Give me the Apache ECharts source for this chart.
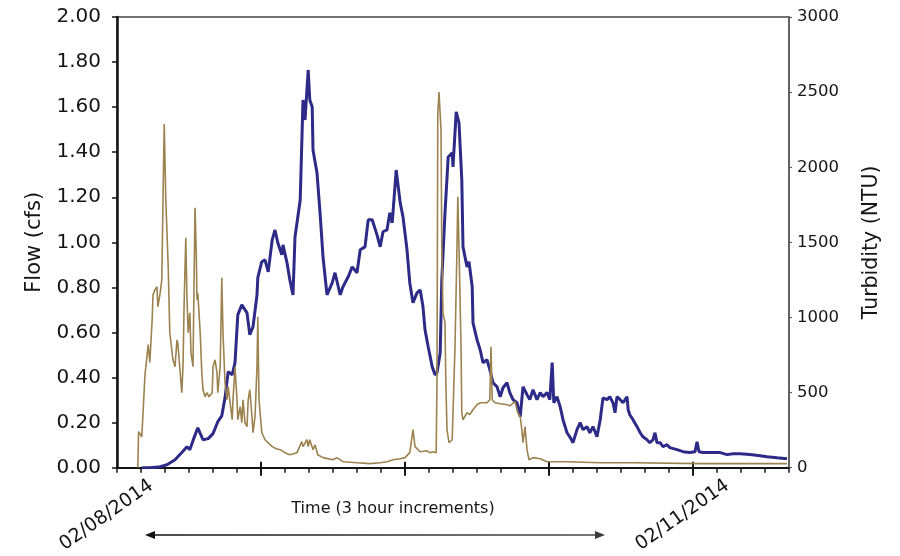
<!DOCTYPE html>
<html>
<head>
<meta charset="utf-8">
<title>Flow and Turbidity</title>
<script src="https://cdn.jsdelivr.net/npm/echarts@6/dist/echarts.min.js"></script>
<style>
  html, body { margin: 0; padding: 0; background: #fff; }
  #chart { width: 900px; height: 556px; }
</style>
</head>
<body>
<div id="chart"></div>
<script>
// Time is in hours since 02/08/2014 00:00.
// Flow readings: [hour, cfs]
const flowReadings = [
  [3.1, 0.00], [4.1, 0.00], [5.4, 0.004], [6.25, 0.013], [7.25, 0.035], [8.1, 0.067], [8.75, 0.093], [9.1, 0.08], [9.5, 0.12], [10.1, 0.177],
  [10.75, 0.124], [11.4, 0.129], [12.0, 0.151], [12.6, 0.204], [13.1, 0.23], [13.5, 0.31], [13.9, 0.426], [14.4, 0.412], [14.75, 0.466], [15.1, 0.678],
  [15.6, 0.723], [16.25, 0.687], [16.6, 0.59], [17.0, 0.625], [17.5, 0.767], [17.6, 0.843], [18.1, 0.914], [18.5, 0.922], [18.9, 0.869], [19.4, 1.011],
  [19.75, 1.055], [20.1, 0.998], [20.6, 0.945], [20.75, 0.989], [21.25, 0.909], [21.6, 0.834], [22.0, 0.767], [22.25, 1.024], [22.9, 1.188], [23.25, 1.632],
  [23.5, 1.543], [23.9, 1.765], [24.1, 1.632], [24.4, 1.601], [24.5, 1.41], [25.0, 1.308], [25.4, 1.122], [25.75, 0.936], [26.25, 0.767], [26.9, 0.82],
  [27.25, 0.865], [27.9, 0.767], [28.25, 0.803], [28.9, 0.847], [29.4, 0.891], [30.0, 0.865], [30.4, 0.967], [31.0, 0.98], [31.4, 1.1], [31.9, 1.1],
  [32.5, 1.033], [32.9, 0.98], [33.25, 1.047], [33.75, 1.055], [34.1, 1.131], [34.4, 1.086], [34.9, 1.321], [35.4, 1.175], [35.75, 1.113], [36.25, 0.967],
  [36.6, 0.82], [37.0, 0.732], [37.5, 0.776], [37.9, 0.789], [38.25, 0.714], [38.5, 0.612], [38.9, 0.537], [39.4, 0.448], [39.75, 0.412], [40.0, 0.421],
  [40.4, 0.51], [40.6, 0.834], [41.0, 1.131], [41.4, 1.379], [41.9, 1.397], [42.0, 1.335], [42.4, 1.579], [42.75, 1.53], [43.1, 1.277], [43.25, 0.98],
  [43.75, 0.891], [44.0, 0.914], [44.4, 0.803], [44.5, 0.643], [45.0, 0.568], [45.4, 0.523], [45.75, 0.466], [46.25, 0.479], [46.6, 0.435], [47.0, 0.377],
  [47.5, 0.359], [47.9, 0.315], [48.25, 0.355], [48.75, 0.377], [49.1, 0.333], [49.5, 0.302], [50.0, 0.288], [50.4, 0.226], [50.75, 0.359], [51.25, 0.324],
  [51.6, 0.302], [52.0, 0.346], [52.5, 0.302], [52.9, 0.333], [53.25, 0.315], [53.75, 0.333], [54.1, 0.302], [54.4, 0.466], [54.6, 0.288], [55.0, 0.315],
  [55.4, 0.27], [55.75, 0.213], [56.25, 0.155], [56.6, 0.137], [57.0, 0.111], [57.5, 0.169], [57.9, 0.2], [58.25, 0.169], [58.75, 0.182], [59.1, 0.155],
  [59.5, 0.182], [60.0, 0.137], [60.4, 0.213], [60.75, 0.31], [61.25, 0.302], [61.6, 0.315], [62.0, 0.288], [62.25, 0.244], [62.5, 0.315], [62.9, 0.302],
  [63.25, 0.288], [63.75, 0.315], [63.9, 0.257], [64.1, 0.235], [64.5, 0.213], [65.0, 0.182], [65.4, 0.155], [65.75, 0.137], [66.25, 0.124], [66.6, 0.111],
  [67.0, 0.124], [67.25, 0.155], [67.5, 0.111], [67.9, 0.111], [68.25, 0.093], [68.75, 0.102], [69.1, 0.089], [70.0, 0.08], [70.75, 0.071], [71.6, 0.067],
  [72.25, 0.071], [72.5, 0.115], [72.75, 0.071], [73.25, 0.067], [74.5, 0.067], [75.4, 0.067], [76.25, 0.058], [77.0, 0.062], [77.9, 0.062], [79.1, 0.058],
  [80.4, 0.053], [81.25, 0.049], [82.5, 0.044], [83.75, 0.04]
];

// Turbidity readings: [hour, NTU]
const turbidityReadings = [
  [2.6, 0], [2.7, 240], [3.1, 206], [3.5, 620], [3.9, 820], [4.1, 700], [4.4, 990], [4.5, 1151], [4.75, 1184], [5.0, 1204],
  [5.1, 1071], [5.4, 1164], [5.6, 1251], [5.75, 1783], [5.9, 2288], [6.1, 1783], [6.4, 1337], [6.6, 898], [7.0, 718], [7.25, 672],
  [7.5, 851], [7.6, 831], [7.9, 632], [8.1, 499], [8.25, 672], [8.4, 1118], [8.6, 1530], [8.75, 1118], [8.9, 898], [9.1, 1031],
  [9.25, 765], [9.5, 672], [9.75, 1730], [9.9, 1450], [10.0, 1118], [10.1, 1164], [10.4, 898], [10.6, 632], [10.75, 519], [11.0, 472],
  [11.25, 499], [11.5, 472], [11.9, 499], [12.0, 672], [12.25, 718], [12.5, 632], [12.6, 499], [12.9, 672], [13.1, 1264], [13.25, 898],
  [13.5, 565], [13.75, 452], [13.9, 539], [14.1, 452], [14.4, 319], [14.5, 452], [14.75, 672], [15.0, 452], [15.1, 319], [15.4, 406],
  [15.6, 299], [15.75, 452], [16.0, 299], [16.25, 273], [16.4, 452], [16.6, 519], [16.9, 319], [17.0, 233], [17.25, 339], [17.5, 672],
  [17.6, 1004], [17.75, 452], [18.1, 233], [18.5, 186], [18.9, 166], [19.4, 140], [19.9, 126], [20.4, 120], [21.0, 100], [21.6, 86],
  [22.5, 100], [23.1, 173], [23.25, 140], [23.75, 186], [23.9, 140], [24.1, 186], [24.5, 120], [24.75, 153], [25.1, 86], [25.75, 67],
  [27.0, 53], [27.5, 67], [28.25, 40], [30.0, 33], [31.6, 27], [32.9, 33], [33.75, 40], [34.5, 53], [35.4, 60], [36.0, 67],
  [36.6, 100], [37.0, 253], [37.25, 140], [37.9, 106], [38.75, 113], [39.1, 100], [39.5, 106], [39.9, 100], [40.0, 585], [40.1, 2361],
  [40.25, 2501], [40.5, 2248], [40.6, 1470], [40.75, 1031], [41.0, 965], [41.1, 585], [41.25, 253], [41.5, 166], [41.9, 186], [42.0, 366],
  [42.25, 805], [42.5, 1470], [42.6, 1803], [42.75, 1470], [43.0, 805], [43.1, 366], [43.25, 319], [43.75, 366], [44.1, 353], [44.5, 386],
  [45.0, 419], [45.4, 432], [46.25, 432], [46.6, 452], [46.75, 805], [46.9, 452], [47.25, 432], [47.9, 426], [48.75, 419], [49.1, 412],
  [49.75, 439], [50.1, 366], [50.4, 339], [50.6, 253], [50.75, 166], [51.0, 273], [51.25, 120], [51.5, 53], [52.0, 67], [52.9, 60],
  [53.75, 40], [56.25, 40], [60.4, 33], [64.5, 33], [72.9, 27], [83.75, 27]
];

// Axis ticks and labels
const timeRangeHours = [0, 84];
const majorTickHours = [18, 36, 54, 72];
const dateLabels = ['02/08/2014', '02/11/2014'];
const dateLabelHours = [0, 72];
const flowTicks = [0, 2, 0.2];          // min, max, step
const turbidityTicks = [0, 3000, 500];  // min, max, step

const FONT = 'DejaVu Sans';
const INK = '#151515';
// Date labels sit slightly to the right of their day boundary
const dateLabelLead = 4.3;
const dateLabelSpots = dateLabelHours.map(h => h + dateLabelLead);

const chart = echarts.init(document.getElementById('chart'), null, { renderer: 'canvas' });

const majorTickAxis = (inside, length) => ({
  type: 'value', min: timeRangeHours[0], max: timeRangeHours[1], position: 'bottom',
  axisLine: { show: false },
  axisTick: { show: true, inside: inside, length: length, customValues: majorTickHours,
              lineStyle: { color: INK, width: 2 } },
  axisLabel: { show: false },
  splitLine: { show: false }
});

chart.setOption({
  animation: false,
  backgroundColor: '#ffffff',
  grid: {
    left: 117, right: 111, top: 17, bottom: 88,
    show: true, borderColor: '#474747', borderWidth: 1.5, backgroundColor: 'transparent'
  },
  xAxis: [
    {
      type: 'value', min: timeRangeHours[0], max: timeRangeHours[1], interval: 3, position: 'bottom',
      axisLine: { show: true, onZero: false, lineStyle: { color: INK, width: 2 } },
      axisTick: { show: true, length: 5, lineStyle: { color: INK, width: 1.5 } },
      splitLine: { show: false },
      axisLabel: {
        customValues: dateLabelSpots,
        rotate: 35, margin: 16,
        fontFamily: FONT, fontSize: 19, color: INK,
        formatter: v => {
          const i = dateLabelSpots.findIndex(s => Math.abs(s - v) < 0.01);
          return i >= 0 ? dateLabels[i] : '';
        }
      },
      name: 'Time (3 hour increments)', nameLocation: 'middle', nameGap: 33,
      nameMoveOverlap: false,
      nameTextStyle: { fontFamily: FONT, fontSize: 16, color: INK, padding: [0, 120, 0, 0] }
    },
    majorTickAxis(true, 6),
    majorTickAxis(false, 8)
  ],
  yAxis: [
    {
      type: 'value', position: 'left',
      min: flowTicks[0], max: flowTicks[1], interval: flowTicks[2],
      axisLine: { show: true, onZero: false, lineStyle: { color: INK, width: 2.5 } },
      axisTick: { show: true, length: 5, lineStyle: { color: INK, width: 1.5 } },
      splitLine: { show: false },
      axisLabel: { fontFamily: FONT, fontSize: 20, color: INK, margin: 16,
                   formatter: v => v.toFixed(2) },
      name: 'Flow (cfs)', nameLocation: 'middle', nameGap: 72, nameMoveOverlap: false,
      nameTextStyle: { fontFamily: FONT, fontSize: 21, color: INK }
    },
    {
      type: 'value', position: 'right',
      min: turbidityTicks[0], max: turbidityTicks[1], interval: turbidityTicks[2],
      axisLine: { show: true, onZero: false, lineStyle: { color: '#5e5e5e', width: 1.5 } },
      axisTick: { show: true, length: 3, lineStyle: { color: '#5e5e5e', width: 1.2 } },
      splitLine: { show: false },
      axisLabel: { fontFamily: FONT, fontSize: 16.5, color: INK, margin: 8,
                   formatter: v => String(v) },
      name: 'Turbidity (NTU)', nameLocation: 'middle', nameGap: 72, nameMoveOverlap: false,
      nameTextStyle: { fontFamily: FONT, fontSize: 20.5, color: INK }
    }
  ],
  series: [
    {
      name: 'Flow', type: 'line', xAxisIndex: 0, yAxisIndex: 0,
      data: flowReadings, showSymbol: false, smooth: false,
      lineStyle: { color: '#2d2b87', width: 3 }, itemStyle: { color: '#2d2b87' },
      z: 3
    },
    {
      name: 'Turbidity', type: 'line', xAxisIndex: 0, yAxisIndex: 1,
      data: turbidityReadings, showSymbol: false, smooth: false,
      lineStyle: { color: '#9b824e', width: 1.6 }, itemStyle: { color: '#9b824e' },
      z: 4
    }
  ],
  graphic: [
    {
      type: 'line', silent: true,
      shape: { x1: 150, y1: 535, x2: 600, y2: 535 },
      style: {
        lineWidth: 1.3,
        stroke: { type: 'linear', x: 145, y: 0, x2: 605, y2: 0, global: true,
                  colorStops: [{ offset: 0, color: '#111111' }, { offset: 1, color: '#4a4a4a' }] }
      }
    },
    {
      type: 'polygon', silent: true,
      shape: { points: [[145, 535], [155, 531], [155, 539]] },
      style: { fill: '#111111' }
    },
    {
      type: 'polygon', silent: true,
      shape: { points: [[605, 535], [595, 531], [595, 539]] },
      style: { fill: '#3a3a3a' }
    }
  ]
});
</script>
</body>
</html>
